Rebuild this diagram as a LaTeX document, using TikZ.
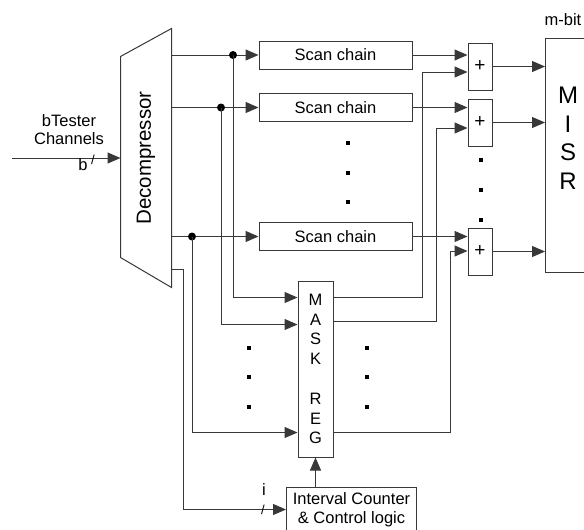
\documentclass[tikz,border=0pt]{standalone}
\usepackage{fontspec}
\setmainfont{Liberation Sans}
\usetikzlibrary{arrows.meta,calc}
\definecolor{lc}{gray}{0.22}
\begin{document}
\begin{tikzpicture}[x=1pt,y=-1pt,line width=1pt,
  arr/.style={draw=lc,-{Triangle[length=13pt,width=11pt]}},
  wire/.style={draw=lc},
  box/.style={draw=lc,inner sep=0pt},
  txt/.style={font=\fontsize{16.5}{19.8}\selectfont},
  dotsq/.style={fill=black,minimum size=3.5pt,inner sep=0pt},
  junc/.style={circle,fill=black,minimum size=8pt,inner sep=0pt}]
\path[use as bounding box,clip] (0,0) rectangle (584,530);
\fill[white] (0,0) rectangle (584,530);

% Decompressor
\node[minimum width=50pt,minimum height=258pt,inner sep=0pt] (dec) at (146,158) {};
\draw[lc] (dec.north east) -- (dec.south east) -- ($(dec.south west)+(0,-30)$)
  -- ($(dec.north west)+(0,28)$) -- cycle;
\node[rotate=90,font=\fontsize{20.5}{24}\selectfont] (dectxt) at (dec.center) {Decompressor};

% input
\coordinate (in) at (12,158);
\draw[arr] (in) -- (dec.west |- in);
\node[align=center,font=\fontsize{16.5}{18}\selectfont] (bt) at (69,130) {bTester\\Channels};
\node[txt] (blab) at (83,165) {b};
\node[font=\fontsize{13}{13}\selectfont] (bsl) at (93,160) {/};

% scan chains
\node[box,txt,minimum width=153pt,minimum height=28pt] (sc1) at (335.5,55) {Scan chain};
\node[box,txt,minimum width=153pt,minimum height=28pt] (sc2) at (335.5,107.5) {Scan chain};
\node[box,txt,minimum width=153pt,minimum height=28pt] (sc3) at (335.5,236.5) {Scan chain};

\draw[arr] (dec.east |- sc1) -- (sc1.west);
\draw[arr] (dec.east |- sc2) -- (sc2.west);
\draw[arr] (dec.east |- sc3) -- (sc3.west);

% XOR
\node[box,font=\fontsize{19}{19}\selectfont,minimum width=24pt,minimum height=47pt] (x1) at (480,66.5) {+};
\node[box,font=\fontsize{19}{19}\selectfont,minimum width=24pt,minimum height=47pt] (x2) at (480,122.5) {+};
\node[box,font=\fontsize{19}{19}\selectfont,minimum width=24pt,minimum height=47pt] (x3) at (480,251.5) {+};

\draw[arr] (sc1.east) -- (x1.west |- sc1);
\draw[arr] (sc2.east) -- (x2.west |- sc2);
\draw[arr] (sc3.east) -- (x3.west |- sc3);

% MISR
\node[box,minimum width=46pt,minimum height=234pt,anchor=north west] (misr) at (545,38) {};
\node[align=center,font=\fontsize{24}{28.5}\selectfont] (misrtxt) at (568,138) {M\\I\\S\\R};
\node[txt] (mbit) at (563,20) {m-bit};

\draw[arr] (x1.east) -- (misr.west |- x1);
\draw[arr] (x2.east) -- (misr.west |- x2);
\draw[arr] (x3.east) -- (misr.west |- x3);

% MASK REG
\node[box,txt,align=center,minimum width=35pt,minimum height=176pt] (mask) at (315.5,369)
  {M\\A\\S\\K\\\mbox{}\\R\\E\\G};

\coordinate (mi1) at ($(mask.north west)+(0,17)$);
\coordinate (mi2) at ($(mask.north west)+(0,44)$);
\coordinate (mi3) at ($(mask.north west)+(0,152)$);
\coordinate (mo1) at ($(mask.north east)+(0,17)$);
\coordinate (mo2) at ($(mask.north east)+(0,41)$);
\coordinate (mo3) at ($(mask.north east)+(0,152)$);
\coordinate (x1b) at ($(x1.west)+(0,5.5)$);
\coordinate (x2b) at ($(x2.west)+(0,5.5)$);
\coordinate (x3b) at ($(x3.west)+(0,-0.5)$);

\node[junc] (j1) at (233,55) {};
\node[junc] (j2) at (221,107.5) {};
\node[junc] (j3) at (192,236.5) {};

\draw[arr] (j1.center) |- (mi1);
\draw[arr] (j2.center) |- (mi2);
\draw[arr] (j3.center) |- (mi3);

\draw[arr] (mo1) -| ($(x1b)+(-45,0)$) -- (x1b);
\draw[arr] (mo2) -| ($(x2b)+(-31,0)$) -- (x2b);
\draw[arr] (mo3) -| ($(x3b)+(-17,0)$) -- (x3b);

% Interval counter
\node[box,txt,align=center,minimum width=130pt,minimum height=44pt,anchor=north west,
  font=\fontsize{16.5}{19}\selectfont] (ic) at (286,487) {Interval Counter\\\& Control logic};
\draw[arr] (mask.south |- ic.north) -- (mask.south);

\coordinate (ds) at ($(dec.south east)+(0,-18)$);
\draw[arr] (ds) -- ++(12,0) |- (ic.west);
\node[txt] (ilab) at (264,490) {i};
\node[font=\fontsize{13}{13}\selectfont] (isl) at (263,510) {/};

% dots
\node[dotsq] (d1) at (348,143) {};
\node[dotsq] (d2) at (348,173) {};
\node[dotsq] (d3) at (348,202) {};
\node[dotsq] (d4) at (481,160) {};
\node[dotsq] (d5) at (481,190) {};
\node[dotsq] (d6) at (481,220) {};
\node[dotsq] (d7) at (249,348) {};
\node[dotsq] (d8) at (249,377) {};
\node[dotsq] (d9) at (249,407) {};
\node[dotsq] (d10) at (367,348) {};
\node[dotsq] (d11) at (367,377) {};
\node[dotsq] (d12) at (367,407) {};
\end{tikzpicture}
\end{document}
